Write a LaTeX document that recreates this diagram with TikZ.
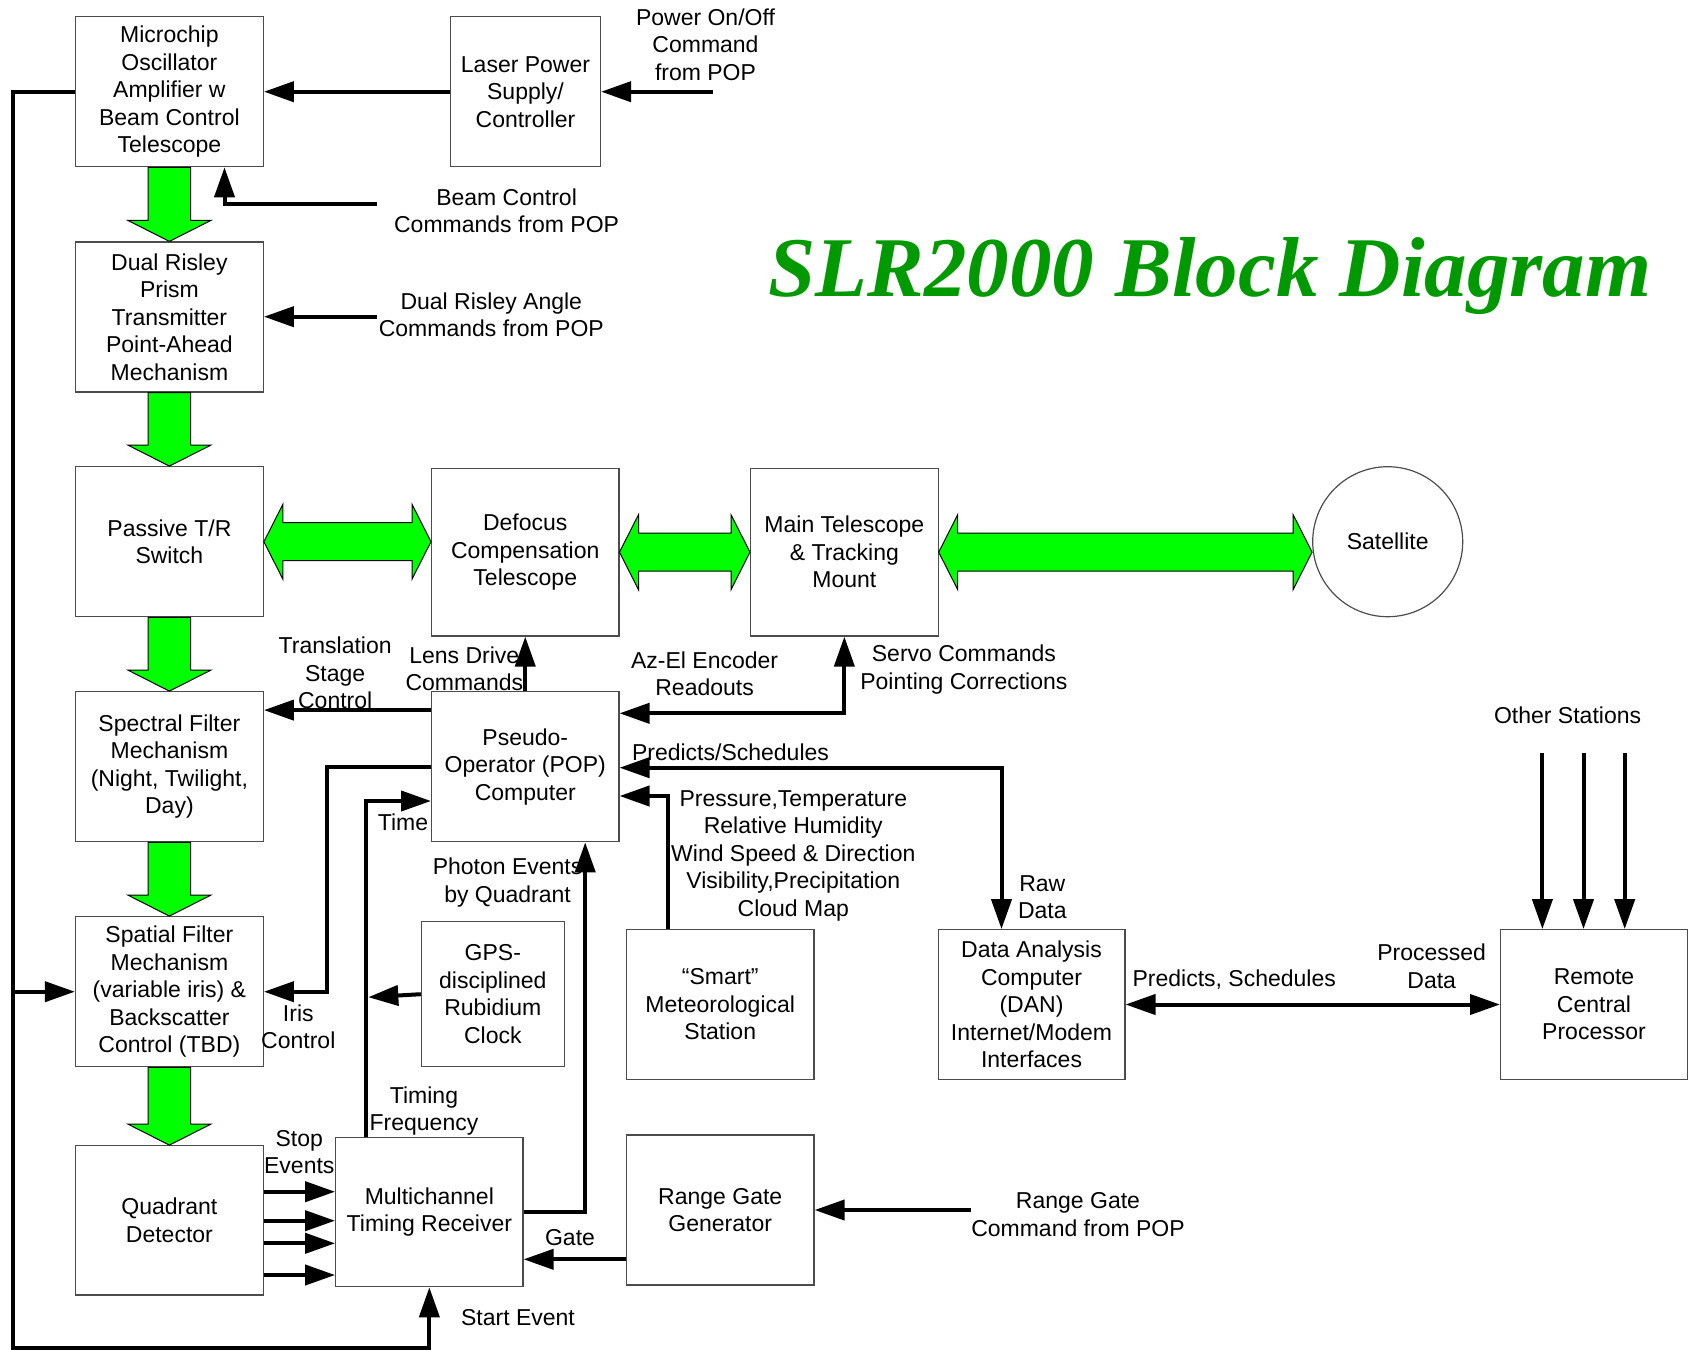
\documentclass[tikz,border=0pt]{standalone}
\usepackage{fontspec}
\setmainfont{Liberation Sans}
\newfontfamily\slrtitlefont{Liberation Serif}
\usetikzlibrary{arrows.meta,calc}
\definecolor{brightgreen}{RGB}{0,255,0}
\definecolor{titlegreen}{RGB}{0,153,0}
\tikzset{
  box/.style={draw=black!70, line width=0.6pt, inner sep=0pt, align=center,
    font=\fontsize{11.5pt}{13.75pt}\selectfont},
  lbl/.style={inner sep=0pt, align=center, font=\fontsize{11.5pt}{13.75pt}\selectfont},
  conn/.style={line width=2pt, -{Triangle[length=15pt,width=10pt]}},
  conntwo/.style={line width=2pt, {Triangle[length=15pt,width=10pt]}-{Triangle[length=15pt,width=10pt]}},
  greenarrow/.style={fill=brightgreen, draw=black, line width=0.5pt},
}
\newcommand\gdownarrow[2]{%
  \draw[greenarrow] ($(#1.south)+(-21.2,0)$) -- ($(#1.south)+(21.2,0)$)
    -- ($(#2.north)+(21.2,-21)$) -- ($(#2.north)+(41.5,-21)$) -- (#2.north)
    -- ($(#2.north)+(-41.5,-21)$) -- ($(#2.north)+(-21.2,-21)$) -- cycle;}
\newcommand\gdoublearrow[2]{%
  \path (#1.east) coordinate (ga) (#1.east -| #2.west) coordinate (gb);
  \draw[greenarrow] (ga) -- ($(ga)+(19,-37.5)$) -- ($(ga)+(19,-19)$)
    -- ($(gb)+(-19,-19)$) -- ($(gb)+(-19,-37.5)$) -- (gb)
    -- ($(gb)+(-19,37.5)$) -- ($(gb)+(-19,19)$) -- ($(ga)+(19,19)$)
    -- ($(ga)+(19,37.5)$) -- cycle;}
\begin{document}
\begin{tikzpicture}[x=0.5pt,y=-0.5pt]
\useasboundingbox (0,0) rectangle (1693,1350);

% ---------- boxes ----------
\node[box, minimum width=93.9pt, minimum height=75pt] (mc) at (169.4,91.7) {Microchip\\Oscillator\\Amplifier w\\Beam Control\\Telescope};
\node[box, minimum width=75pt, minimum height=75pt] (lps) at (525.5,91.7) {Laser Power\\Supply/\\Controller};
\node[box, minimum width=93.9pt, minimum height=75pt] (dr) at (169.4,317) {Dual Risley\\Prism\\Transmitter\\Point-Ahead\\Mechanism};
\node[box, minimum width=93.9pt, minimum height=75pt] (ptr) at (169.4,541.7) {Passive T/R\\Switch};
\node[box, minimum width=93.65pt, minimum height=83.85pt] (dft) at (525.25,552.15) {Defocus\\Compensation\\Telescope};
\node[box, minimum width=93.75pt, minimum height=83.85pt] (mts) at (844.35,552.15) {Main Telescope\\\& Tracking\\Mount};
\node[box, circle, minimum size=75pt] (sat) at (1387.7,541.7) {Satellite};
\node[box, minimum width=93.9pt, minimum height=75pt] (spf) at (169.4,766.7) {Spectral Filter\\Mechanism\\(Night, Twilight,\\Day)};
\node[box, minimum width=93.65pt, minimum height=75pt] (pop) at (525.25,766.7) {Pseudo-\\Operator (POP)\\Computer};
\node[box, minimum width=93.9pt, minimum height=75pt] (spat) at (169.4,991.7) {Spatial Filter\\Mechanism\\(variable iris) \&\\Backscatter\\Control (TBD)};
\node[box, minimum width=71.45pt, minimum height=72.5pt] (gps) at (492.85,994.2) {GPS-\\disciplined\\Rubidium\\Clock};
\node[box, minimum width=93.9pt, minimum height=74.65pt] (qd) at (169.4,1220.35) {Quadrant\\Detector};
\node[box, minimum width=93.65pt, minimum height=74.7pt] (mtr) at (429.35,1212) {Multichannel\\Timing Receiver};
\node[box, minimum width=93.75pt, minimum height=74.8pt] (smt) at (720.25,1004.5) {``Smart''\\Meteorological\\Station};
\node[box, minimum width=93.75pt, minimum height=75pt] (rg) at (720.25,1210) {Range Gate\\Generator};
\node[box, minimum width=93.4pt, minimum height=74.8pt] (dan) at (1031.5,1004.5) {Data Analysis\\Computer\\(DAN)\\Internet/Modem\\Interfaces};
\node[box, minimum width=93.4pt, minimum height=74.8pt] (rcp) at (1594,1004.5) {Remote\\Central\\Processor};

% ---------- title ----------
\node[anchor=base west, inner sep=0pt, text=titlegreen,
  font=\slrtitlefont\bfseries\itshape\fontsize{42.5pt}{50pt}\selectfont] (title) at (768,296.7) {SLR2000 Block Diagram};

% ---------- green beam arrows ----------
\gdownarrow{mc}{dr}
\gdownarrow{dr}{ptr}
\gdownarrow{ptr}{spf}
\gdownarrow{spf}{spat}
\gdownarrow{spat}{qd}
\gdoublearrow{ptr}{dft}
\gdoublearrow{dft}{mts}
\gdoublearrow{mts}{sat}

% ---------- connectors ----------
\draw[conn] (lps.west) -- (mc.east);
\coordinate (pwr) at (713,91.7);
\draw[conn] (pwr) -- (pwr -| lps.east);
\coordinate (bc) at (376.5,204);
\coordinate (bcx) at (224.5,204);
\draw[conn] (bc) -- (bcx) -- (bcx |- mc.south);
\coordinate (dra) at (376.5,316.7);
\draw[conn] (dra) -- (dra -| dr.east);

% feedback / start event
\coordinate (fbb) at (13,1347.5);
\draw[conn] (mc.west) -| (fbb) -| (mtr.south);
\draw[conn] (fbb |- spat.west) -- (spat.west);

% POP outputs
\draw[conn] (pop.north) -- (dft.south);
\path ($(pop.north west)+(0,19)$) coordinate (ts);
\draw[conn] (ts) -- (ts -| spf.east);
\coordinate (irisx) at (326.5,900);
\draw[conn] (pop.west) -| (irisx |- spat.east) -- (spat.east);

% time
\path ($(pop.west)+(0,34.3)$) coordinate (tm);
\coordinate (timex) at (366.3,1000);
\draw[conn] (timex |- mtr.north) |- (tm);
\draw[conn] (gps.west) -- ($(timex |- gps.west)+(2,3)$);

% photon events
\coordinate (phx) at (585.2,1000);
\draw[conn] (mtr.east) -| (phx |- pop.south);

% stop events
\foreach \dy in {-28.65,0.35,22.95,54.65} {
  \path ($(qd.east)+(0,\dy)$) coordinate (s);
  \draw[conn] (s) -- (s -| mtr.west);
}

% gate
\path ($(rg.west)+(0,49.3)$) coordinate (g);
\draw[conn] (g) -- (g -| mtr.east);
\coordinate (rgc) at (970.8,1210);
\draw[conn] (rgc) -- (rgc -| rg.east);

% telescope mount
\coordinate (az) at (844.35,713.3);
\draw[conntwo] (az -| pop.east) -- (az) -- (mts.south);

% predicts / raw data
\coordinate (pd) at (1001.5,767.7);
\draw[conntwo] (pd -| pop.east) -- (pd) -- (pd |- dan.north);

% meteorological
\coordinate (met) at (668.3,796);
\draw[conn] (met |- smt.north) -- (met) -- (met -| pop.east);

% DAN - remote
\draw[conntwo] (dan.east) -- (rcp.west);

% other stations
\foreach \x in {1542.4,1583.5,1624.7} {
  \coordinate (os) at (\x,753.3);
  \draw[conn] (os) -- (os |- rcp.north);
}

% ---------- labels ----------
\node[lbl] (lpwr) at (705.5,44.5) {Power On/Off\\Command\\from POP};
\node[lbl] (lbc) at (506.6,211) {Beam Control\\Commands from POP};
\node[lbl] (ldra) at (491.3,315) {Dual Risley Angle\\Commands from POP};
\node[lbl] (lts) at (335.2,673) {Translation\\Stage\\Control};
\node[lbl] (lld) at (464.3,669) {Lens Drive\\Commands};
\node[lbl] (laz) at (704.6,673.7) {Az-El Encoder\\Readouts};
\node[lbl] (lsv) at (963.9,669.3) {Servo Commands\\Pointing Corrections};
\node[lbl] (lps2) at (730.5,752.5) {Predicts/Schedules};
\node[lbl] (lmet) at (793.3,855.7) {Pressure,Temperature\\Relative Humidity\\Wind Speed \& Direction\\Visibility,Precipitation\\Cloud Map};
\node[lbl] (ltime) at (403,822) {Time};
\node[lbl] (lph) at (507.6,882.3) {Photon Events\\by Quadrant};
\node[lbl] (lraw) at (1042.3,897.4) {Raw\\Data};
\node[lbl] (liris) at (298.3,1027) {Iris\\Control};
\node[lbl] (ltf) at (424,1111) {Timing\\Frequency};
\node[lbl] (lstop) at (299.3,1152.3) {Stop\\Events};
\node[lbl] (lgate) at (570,1237.7) {Gate};
\node[lbl] (lstart) at (518,1317.7) {Start Event};
\node[lbl] (lrgc) at (1078,1214.5) {Range Gate\\Command from POP};
\node[lbl] (lpsch) at (1234.2,980) {Predicts, Schedules};
\node[lbl] (lproc) at (1431.7,966.5) {Processed\\Data};
\node[lbl] (loth) at (1567.6,715.3) {Other Stations};
\end{tikzpicture}
\end{document}
